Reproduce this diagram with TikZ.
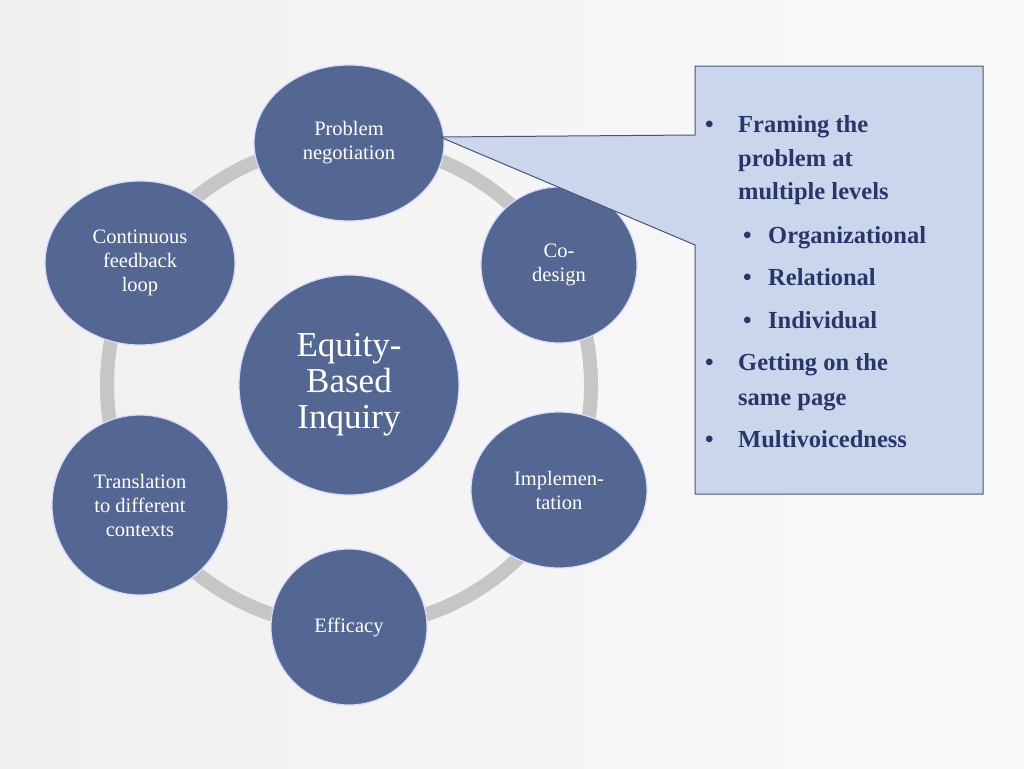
\documentclass[tikz,border=0pt]{standalone}
\usepackage{fontspec}
\setmainfont{Liberation Serif}
\begin{document}
\begin{tikzpicture}[x=1pt,y=-1pt,
 bub/.style={ellipse,draw=white!85!blue,line width=1.2pt,fill=bubfill,text=white,align=center,font=\fontsize{20.5}{24}\selectfont,inner sep=0pt},
 bl/.style={anchor=base west,text=txtc,font=\bfseries\fontsize{24.5}{28}\selectfont,inner sep=0pt}]
\definecolor{bubfill}{RGB}{84,103,146}
\definecolor{boxfill}{RGB}{203,214,236}
\definecolor{boxline}{RGB}{70,85,125}
\definecolor{txtc}{RGB}{40,55,105}
\useasboundingbox (0,0) rectangle (1024,768);
\shade[left color=gray!12,right color=gray!4] (0,0) rectangle (1024,768);
\usetikzlibrary{shapes.geometric}
\draw[gray!45,line width=14pt] (349,385) circle (242);
\node[bub,minimum width=190,minimum height=156] (pn) at (349,143) {Problem\\negotiation};
\node[bub,minimum width=156,minimum height=156] (cd) at (559,265) {Co-\\design};
\node[bub,minimum width=176,minimum height=156] (im) at (559,490) {Implemen-\\tation};
\node[bub,minimum width=156,minimum height=156] (ef) at (349,627) {Efficacy};
\node[bub,minimum width=176,minimum height=180] (tr) at (140,505) {Translation\\to different\\contexts};
\node[bub,minimum width=190,minimum height=164] (cf) at (140,263) {Continuous\\feedback\\loop};
\node[bub,minimum width=220,minimum height=220,font=\fontsize{35}{36}\selectfont] (eq) at (349,385) {Equity-\\Based\\Inquiry};
\coordinate (tip) at (440,137);
\draw[boxline,line width=1pt,fill=boxfill] (695,66)--(983,66)--(983,494)--(695,494)--(695,245)--(tip)--(695,135)--cycle;
\foreach \y/\t in {132/Framing the,166/problem at,199/multiple levels,370/Getting on the,405/same page,447/Multivoicedness}{\node[bl] at (738,\y) {\t};}
\foreach \y in {132,370,447}{\node[bl] at (705,\y) {•};}
\foreach \y/\t in {243/Organizational,285/Relational,328/Individual}{\node[bl] at (768,\y) {\t};\node[bl] at (743,\y) {•};}
\end{tikzpicture}
\end{document}
